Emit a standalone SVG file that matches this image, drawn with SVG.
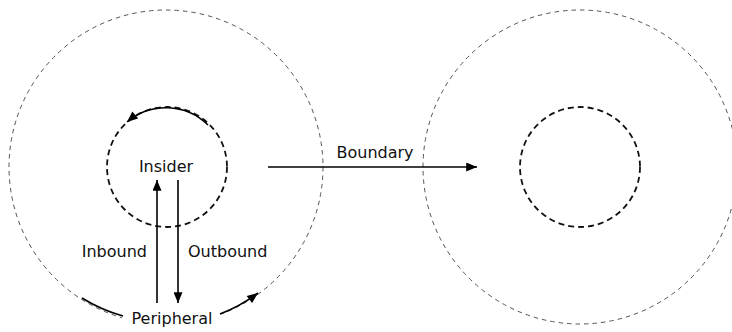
<svg xmlns="http://www.w3.org/2000/svg" width="732" height="332" viewBox="0 0 732 332">
  <style>
    .outer { fill: none; stroke: #555; stroke-width: 1; stroke-dasharray: 4.5 4; }
    .inner { fill: none; stroke: #111; stroke-width: 1.8; stroke-dasharray: 6 4; }
    .flow { fill: none; stroke: #000; stroke-width: 1.6; }
    .label { font-family: "DejaVu Sans", "Liberation Sans", sans-serif; font-size: 16px; fill: #111; }
  </style>
  <defs>
    <marker id="headBig" viewBox="0 0 12 10" refX="12" refY="5" markerWidth="12" markerHeight="9" markerUnits="userSpaceOnUse" orient="auto">
      <path d="M0 0 L12 5 L0 10 Z" fill="#000"/>
    </marker>
  </defs>

  <g id="left-domain">
    <circle class="outer" cx="166" cy="167" r="157"/>
  </g>
  <g id="insider">
    <circle class="inner" cx="167" cy="167" r="60"/>
    <text class="label" x="166" y="172" text-anchor="middle">Insider</text>
  </g>
  <g id="peripheral">
    <!-- knock out the boundary dashes under the label -->
    <rect x="122" y="306" width="99" height="26" fill="#fff"/>
    <text class="label" x="172" y="324" text-anchor="middle">Peripheral</text>
  </g>
  <g id="right-domain">
    <circle class="outer" cx="580" cy="167" r="157"/>
    <circle class="inner" cx="580" cy="167" r="60"/>
  </g>

  <g id="connectors">
    <!-- circulation among insiders -->
    <path class="flow" d="M208 125 A60 60 0 0 0 127 122" marker-end="url(#headBig)"/>
    <!-- circulation among peripherals -->
    <path class="flow" d="M82 298 A156 156 0 0 0 123 316"/>
    <path class="flow" d="M220 314 A156 156 0 0 0 258 293" marker-end="url(#headBig)"/>
    <!-- inbound / outbound -->
    <line class="flow" x1="157" y1="303" x2="157" y2="180" marker-end="url(#headBig)"/>
    <line class="flow" x1="178" y1="180" x2="178" y2="303" marker-end="url(#headBig)"/>
    <text class="label" x="147" y="257" text-anchor="end">Inbound</text>
    <text class="label" x="188" y="257">Outbound</text>
    <!-- boundary crossing -->
    <line class="flow" x1="268" y1="167" x2="477" y2="167" marker-end="url(#headBig)"/>
    <text class="label" x="375" y="158" text-anchor="middle">Boundary</text>
  </g>
</svg>
